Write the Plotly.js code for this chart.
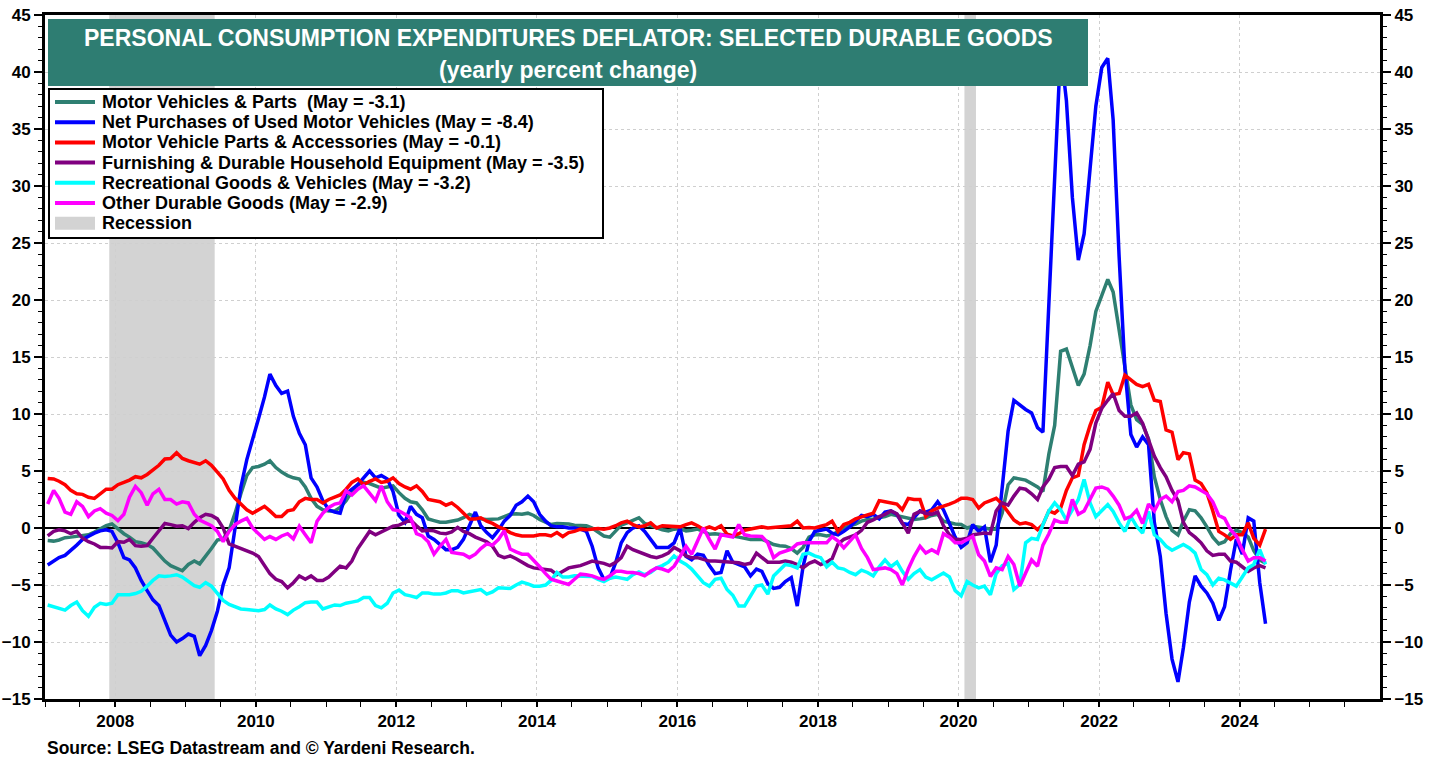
<!DOCTYPE html>
<html><head><meta charset="utf-8">
<script src="https://cdn.plot.ly/plotly-3.0.1.min.js"></script>
<style>html,body{margin:0;padding:0;background:#fff;}#chart{width:1438px;height:763px;}</style>
</head><body><div id="chart"></div>
<script>
// Monthly data, Jan 2007 .. May 2024 (yearly percent change)
const startYear = 2007;
const motorVehicles = [
-1.1,-1.15,-1.05,-0.85,-0.8,-0.75,-0.7,-0.6,-0.35,-0.1,0.2,0.35,
-0.1,-0.5,-0.8,-1.2,-1.3,-1.45,-1.75,-2.3,-2.9,-3.3,-3.55,-3.75,
-3.2,-2.9,-3.15,-2.5,-1.8,-1.05,-0.95,-0.2,1.3,3.0,4.6,5.3,
5.4,5.6,5.9,5.3,4.9,4.6,4.4,4.3,3.6,2.6,1.9,1.6,
1.5,1.5,1.8,2.4,3.2,3.8,4.0,3.9,3.7,3.5,3.6,3.7,
3.1,2.6,2.3,2.2,1.6,0.8,0.65,0.5,0.5,0.6,0.7,0.9,
1.2,1.0,0.8,0.75,0.75,0.8,1.0,1.2,1.25,1.2,1.3,1.1,
0.75,0.5,0.3,0.4,0.4,0.35,0.25,0.25,0.2,0.0,-0.4,-0.7,
-0.8,-0.2,0.25,0.45,0.65,0.9,0.4,0.2,0.0,-0.15,-0.25,-0.1,
-0.05,-0.25,-0.2,-0.1,-0.3,-0.55,-0.5,-0.55,-0.6,-0.7,-0.8,-0.9,
-1.0,-1.0,-1.0,-1.2,-1.45,-1.55,-1.6,-1.8,-2.2,-1.7,-0.8,-0.6,
-0.6,-0.7,-0.6,-0.3,0.0,0.2,0.35,0.6,0.75,0.8,0.9,1.0,
1.2,1.1,1.0,0.9,0.75,0.8,0.9,1.1,1.2,0.6,0.45,0.35,
0.3,0.0,0.15,0.1,0.0,-0.1,-0.1,1.3,3.8,4.4,4.3,4.2,
3.9,3.6,3.2,6.5,9.0,15.5,15.7,14.0,12.5,13.5,16.0,19.0,
20.5,21.8,20.7,17.2,14.3,10.8,9.5,9.1,7.8,4.5,2.5,1.0,
-0.2,-0.6,0.6,1.6,1.5,0.9,0.1,-0.8,-1.4,-1.2,-0.5,-0.2,
-0.4,-0.8,-2.0,-2.8,-3.1];
const usedVehicles = [
-3.25,-2.9,-2.6,-2.4,-2.0,-1.5,-1.0,-0.7,-0.45,-0.25,-0.15,-0.3,
-1.3,-2.6,-2.8,-3.5,-4.6,-5.5,-6.3,-6.8,-8.2,-9.4,-10.0,-9.7,
-9.3,-9.5,-11.2,-10.3,-9.0,-7.3,-5.0,-3.5,0.0,3.6,6.0,7.7,
9.6,11.5,13.5,12.5,11.8,12.0,9.8,8.3,7.3,4.4,3.6,2.4,
1.6,1.4,1.3,3.0,3.4,3.8,4.4,5.0,4.4,4.6,4.3,3.2,
1.1,0.5,1.9,1.2,0.9,-0.7,-1.0,-1.5,-1.9,-1.9,-1.7,-1.0,
0.3,1.4,0.2,-0.4,-0.85,-0.2,0.6,1.1,2.0,2.3,2.8,2.3,
1.2,0.6,0.2,0.1,0.1,0.0,0.0,-0.1,-0.3,-1.6,-3.5,-4.5,
-4.4,-3.0,-1.3,-0.4,0.0,0.2,-0.3,-1.0,-1.7,-1.7,-1.7,-1.3,
0.0,-2.5,-2.8,-2.3,-2.4,-3.3,-4.0,-3.9,-2.0,-3.0,-3.2,-3.4,
-4.2,-3.6,-3.8,-4.9,-5.3,-5.2,-4.7,-4.35,-6.85,-3.4,-1.2,-0.3,
-0.2,-0.1,-0.45,-0.6,-0.3,0.1,0.6,1.1,1.0,1.2,0.8,1.4,
1.5,1.2,0.4,0.3,0.9,1.5,1.4,1.6,2.3,1.6,0.4,-0.8,
-1.7,-1.3,0.3,-0.3,0.1,-3.0,-1.5,3.5,8.5,11.2,10.8,10.4,
10.1,8.8,8.4,20.0,30.0,42.0,37.5,29.0,23.5,25.8,31.5,37.0,
40.4,41.2,35.8,23.8,14.0,8.2,7.1,8.0,7.3,0.5,-2.5,-7.5,
-11.5,-13.5,-10.5,-6.5,-4.2,-5.1,-5.7,-6.6,-8.1,-6.9,-3.7,-1.0,
-2.3,0.9,0.6,-4.8,-8.4];
const partsAccessories = [
4.35,4.3,4.1,3.8,3.3,3.0,2.95,2.7,2.6,3.0,3.4,3.4,
3.8,4.0,4.2,4.5,4.4,4.7,5.1,5.5,6.05,6.1,6.6,6.1,
5.9,5.7,5.6,5.9,5.5,4.9,4.3,3.3,2.6,2.1,1.6,1.3,
1.6,1.9,1.5,1.0,1.0,1.5,1.6,2.3,2.6,2.5,2.5,2.2,
2.5,2.7,2.9,3.4,4.0,4.3,3.8,4.1,4.3,4.0,4.1,4.4,
3.9,3.6,3.4,3.7,3.2,2.5,2.4,2.3,2.0,2.2,1.8,1.3,
0.8,0.8,0.9,0.6,0.4,0.1,-0.1,-0.4,-0.6,-0.7,-0.7,-0.7,
-0.6,-0.6,-0.7,-0.4,-0.75,-0.4,-0.3,-0.1,-0.15,-0.1,-0.05,-0.1,
0.0,0.2,0.45,0.6,0.3,0.1,0.2,0.45,0.0,0.2,0.15,0.1,
0.1,0.3,0.45,0.2,-0.1,0.1,-0.1,0.2,-0.55,-0.7,-0.5,-0.2,
-0.1,-0.05,0.1,0.0,0.05,0.1,0.15,0.2,0.6,0.0,0.05,0.0,
0.15,0.3,0.6,-0.3,0.3,0.5,0.8,1.0,1.15,1.3,2.4,2.3,
2.2,2.1,1.6,2.6,2.5,2.5,1.0,1.5,1.75,1.9,2.1,2.3,
2.6,2.6,2.5,1.75,2.2,2.4,2.6,2.1,1.4,0.7,0.35,0.45,
0.3,-0.15,0.3,1.5,1.3,1.75,3.3,4.4,4.6,7.3,9.0,10.3,
10.6,12.8,11.7,11.8,13.4,13.0,12.6,12.4,12.6,11.2,11.1,8.6,
8.4,6.0,6.6,6.5,4.2,3.9,3.1,1.5,-0.3,-0.6,-1.0,-0.6,
-0.6,0.45,-0.9,-1.5,-0.1];
const furnishings = [
-0.7,-0.3,-0.15,-0.25,-0.5,-0.3,-0.9,-1.2,-1.4,-1.7,-1.7,-1.75,
-1.2,-1.25,-1.0,-1.55,-1.6,-1.55,-0.9,-0.2,0.4,0.3,0.15,0.2,
-0.05,0.5,0.9,1.2,1.1,0.8,0.0,-1.4,-1.6,-1.8,-2.0,-2.2,
-2.5,-3.3,-4.0,-4.5,-4.7,-5.25,-4.8,-4.2,-4.5,-4.2,-4.6,-4.6,
-4.3,-3.8,-3.35,-3.5,-2.9,-1.8,-1.1,-0.3,-0.6,-0.35,-0.15,0.15,
0.25,0.45,0.7,0.2,-0.25,-0.2,-0.25,-0.45,-0.5,-0.35,0.05,-0.3,
-0.5,-0.8,-1.0,-1.2,-1.6,-2.4,-2.6,-2.45,-2.7,-3.0,-3.3,-3.5,
-3.55,-3.6,-3.7,-4.1,-3.8,-3.5,-3.4,-3.3,-3.1,-2.9,-3.0,-3.1,
-3.3,-3.0,-2.6,-1.6,-1.9,-2.1,-2.3,-2.5,-2.6,-2.45,-2.2,-1.7,
-2.0,-2.45,-2.6,-2.6,-2.75,-2.9,-2.9,-2.95,-3.0,-3.0,-3.05,-3.2,
-3.1,-2.2,-2.6,-3.0,-3.0,-3.0,-2.9,-3.0,-3.2,-3.5,-3.1,-2.9,
-3.2,-3.0,-2.7,-1.4,-1.0,-0.8,-0.6,-0.2,0.5,0.7,1.0,1.2,
1.5,1.25,0.5,-0.45,1.2,1.45,1.3,1.2,1.4,0.2,-0.6,-1.0,
-1.0,-0.9,-0.6,-0.55,-0.45,-0.5,1.5,2.2,2.0,2.8,3.5,3.4,
3.0,2.5,3.6,4.3,5.3,5.4,5.4,4.6,5.6,5.8,6.9,9.2,
10.5,11.2,11.8,10.3,9.8,9.8,10.1,9.2,7.7,6.3,5.3,4.5,
3.3,2.4,0.5,-0.4,-0.8,-1.3,-2.0,-2.4,-2.3,-2.3,-2.9,-3.0,
-3.4,-3.8,-3.5,-3.3,-3.5];
const recreational = [
-6.75,-6.9,-7.0,-7.2,-6.8,-6.5,-7.25,-7.75,-6.95,-6.6,-6.7,-6.6,
-5.85,-5.85,-5.85,-5.75,-5.55,-5.1,-4.6,-4.2,-4.25,-4.2,-4.1,-4.3,
-4.7,-5.05,-5.2,-4.8,-5.1,-5.8,-6.35,-6.7,-6.9,-7.1,-7.15,-7.2,
-7.25,-7.15,-6.75,-7.1,-7.3,-7.6,-7.2,-6.9,-6.55,-6.5,-6.5,-7.1,
-6.9,-6.75,-6.8,-6.6,-6.5,-6.4,-6.1,-6.1,-6.8,-7.0,-6.6,-5.7,
-5.45,-5.85,-5.95,-6.1,-5.7,-5.7,-5.8,-5.8,-5.7,-5.5,-5.5,-5.7,
-5.6,-5.5,-5.4,-5.8,-5.6,-5.25,-5.3,-5.3,-5.0,-4.75,-4.9,-5.1,
-5.1,-5.0,-4.6,-3.9,-4.3,-4.3,-4.2,-4.2,-4.2,-4.25,-4.5,-4.7,
-4.4,-4.3,-4.4,-4.5,-4.1,-3.85,-4.1,-3.9,-3.5,-3.3,-3.0,-2.45,
-2.9,-3.2,-3.6,-4.2,-4.8,-5.1,-4.5,-4.4,-5.4,-5.9,-6.85,-6.85,
-6.0,-5.1,-5.0,-5.8,-4.2,-3.7,-3.2,-3.3,-3.5,-2.3,-2.2,-2.45,
-2.6,-3.4,-3.0,-3.5,-3.6,-3.9,-4.1,-3.7,-3.9,-4.2,-3.4,-2.8,
-3.4,-3.0,-3.8,-4.5,-4.0,-3.65,-4.3,-4.55,-4.2,-3.95,-4.3,-5.5,
-5.95,-4.7,-5.0,-5.25,-5.1,-5.85,-4.0,-3.3,-3.1,-5.4,-4.95,-1.3,
-0.9,-1.0,0.3,1.5,2.2,1.6,0.7,1.6,2.5,4.25,2.2,1.0,
1.5,2.05,1.45,0.45,-0.3,1.0,0.15,-0.45,1.45,-0.6,-1.0,-1.6,
-1.95,-1.7,-1.45,-1.75,-2.2,-3.65,-4.1,-5.0,-4.4,-4.55,-4.8,-5.1,
-4.3,-3.5,-3.2,-1.9,-3.2];
const otherDurables = [
2.1,3.3,2.6,1.4,1.2,2.3,1.9,1.0,1.5,1.7,1.3,1.1,
0.65,1.2,2.7,3.65,3.1,2.0,3.0,3.4,2.5,2.5,2.1,2.3,
2.2,1.2,0.7,0.45,0.2,-0.3,-1.2,-0.3,0.3,0.6,0.85,0.0,
-0.5,-1.0,-0.75,-1.0,-0.7,-0.5,-0.95,0.15,-0.6,-1.3,0.6,1.3,
1.8,2.1,2.2,3.25,2.9,3.4,3.7,3.1,2.4,3.7,2.3,1.6,
1.5,1.2,0.9,-0.5,-0.7,-1.2,-2.3,-1.6,-1.0,-2.15,-2.2,-2.3,
-2.6,-2.3,-1.8,-1.4,-1.5,-1.0,-0.25,-1.85,-2.1,-2.3,-2.3,-2.8,
-3.4,-4.0,-4.5,-4.65,-4.8,-4.95,-4.5,-4.05,-4.1,-4.2,-4.4,-4.5,
-4.2,-3.8,-3.8,-3.9,-3.9,-4.0,-4.2,-3.8,-3.5,-3.6,-3.8,-3.35,
-2.5,-1.6,-2.3,-1.1,0.0,-1.0,-1.85,-0.6,-0.7,-0.8,0.3,-0.6,
-0.7,-0.75,-0.75,-1.3,-2.6,-2.2,-2.0,-1.85,-1.4,-1.3,-1.3,-1.3,
-1.3,-1.3,-0.75,-1.15,-1.75,-1.2,-0.6,-1.8,-2.6,-3.65,-3.6,-3.5,
-3.65,-4.0,-5.0,-3.6,-2.5,-1.6,-2.2,-1.9,-2.2,-0.5,-0.8,-1.3,
-1.3,-1.0,-0.75,-2.35,-2.9,-4.25,-3.5,-3.65,-2.5,-3.2,-5.1,-3.95,
-2.8,-3.35,-1.5,-0.5,0.7,0.5,0.5,2.5,1.2,1.5,2.5,3.5,
3.6,3.4,2.8,2.0,0.8,1.0,1.55,0.4,2.1,1.5,2.5,2.8,
2.3,3.2,3.3,3.7,3.6,3.3,3.0,2.3,1.1,0.85,-0.15,-0.7,
-1.9,-2.9,-2.6,-2.6,-2.9];
const seriesNames = [
  'Motor Vehicles & Parts \u00a0(May = -3.1)',
  'Net Purchases of Used Motor Vehicles (May = -8.4)',
  'Motor Vehicle Parts & Accessories (May = -0.1)',
  'Furnishing & Durable Household Equipment (May = -3.5)',
  'Recreational Goods & Vehicles (May = -3.2)',
  'Other Durable Goods (May = -2.9)'];
const recessionLabel = 'Recession';
const recessionStart = ['2007-12-01', '2020-02-01'];
const recessionEnd = ['2009-06-01', '2020-04-01'];
const titleLine1 = 'PERSONAL CONSUMPTION EXPENDITURES DEFLATOR: SELECTED DURABLE GOODS';
const titleLine2 = '(yearly percent change)';
const sourceText = 'Source: LSEG Datastream and \u00a9 Yardeni Research.';

// monthly dates (mid-month)
const dates = motorVehicles.map((_, i) => {
  const y = startYear + Math.floor(i / 12), m = (i % 12) + 1;
  return y + '-' + String(m).padStart(2, '0') + '-15';
});

const FONT = 'Liberation Sans, Arial, Helvetica, sans-serif';
const colors = ['#2E7F72', '#0000FF', '#FF0000', '#800080', '#00FFFF', '#FF00FF'];
const recessionColor = '#D3D3D3';
const seriesData = [motorVehicles, usedVehicles, partsAccessories, furnishings, recreational, otherDurables];

const traces = seriesData.map((vals, i) => ({
  type: 'scatter', mode: 'lines', x: dates, y: vals, name: seriesNames[i],
  line: { color: colors[i], width: 3.5 }, hoverinfo: 'skip', showlegend: false
}));
traces.push({ type: 'scatter', mode: 'lines', x: [null], y: [null], yaxis: 'y2', showlegend: false, hoverinfo: 'skip' });

// plot-area geometry helpers (pixels -> paper)
const PL = 45, PW = 1335, PB = 699, PH = 684;
const px = v => (v - PL) / PW;
const py = v => (PB - v) / PH;

const shapes = recessionStart.map((s, i) => ({
  type: 'rect', xref: 'x', yref: 'paper', x0: s, x1: recessionEnd[i], y0: 0, y1: 1,
  fillcolor: recessionColor, line: { width: 0 }, layer: 'below'
}));
// title box
shapes.push({ type: 'rect', xref: 'paper', yref: 'paper', x0: px(48), x1: px(1088), y0: py(86), y1: py(19),
  fillcolor: '#2E7D72', line: { width: 0 }, layer: 'above' });
// legend box
shapes.push({ type: 'rect', xref: 'paper', yref: 'paper', x0: px(49), x1: px(603), y0: py(238), y1: py(89),
  fillcolor: 'white', line: { color: 'black', width: 2 }, layer: 'above' });

const annotations = [
  { xref: 'paper', yref: 'paper', x: px(568), y: py(38), xanchor: 'center', yanchor: 'middle', showarrow: false,
    text: titleLine1, font: { family: FONT, size: 23, color: 'white', weight: 'bold' } },
  { xref: 'paper', yref: 'paper', x: px(568), y: py(70), xanchor: 'center', yanchor: 'middle', showarrow: false,
    text: titleLine2, font: { family: FONT, size: 23, color: 'white', weight: 'bold' } },
  { xref: 'paper', yref: 'paper', x: px(45), y: py(748), xanchor: 'left', yanchor: 'middle', showarrow: false,
    text: sourceText, font: { family: FONT, size: 17.5, color: 'black', weight: 'bold' } }
];

// legend entries
const legendRowTop = 102, legendRowStep = 20.2;
const legendLabels = seriesNames.concat([recessionLabel]);
legendLabels.forEach((lab, i) => {
  const yc = legendRowTop + i * legendRowStep;
  if (i < seriesNames.length) {
    shapes.push({ type: 'line', xref: 'paper', yref: 'paper', x0: px(55), x1: px(95), y0: py(yc), y1: py(yc),
      line: { color: colors[i], width: 4 }, layer: 'above' });
  } else {
    shapes.push({ type: 'rect', xref: 'paper', yref: 'paper', x0: px(55), x1: px(95), y0: py(yc + 6.5), y1: py(yc - 6.5),
      fillcolor: recessionColor, line: { width: 0 }, layer: 'above' });
  }
  annotations.push({ xref: 'paper', yref: 'paper', x: px(100), y: py(yc), xanchor: 'left', yanchor: 'middle',
    showarrow: false, text: lab, font: { family: FONT, size: 18, color: 'black', weight: 'bold' } });
});

const gridColor = '#CFCFCF';
const yCommon = {
  range: [-15, 45], tick0: 0, dtick: 5, ticks: 'outside', ticklen: 8, tickwidth: 2, tickcolor: 'black',
  showline: true, linecolor: 'black', linewidth: 3,
  tickfont: { family: FONT, size: 17, color: 'black', weight: 'bold' },
  minor: { dtick: 1, ticks: 'outside', ticklen: 4, tickwidth: 1, tickcolor: 'black', showgrid: false }
};

const layout = {
  width: 1438, height: 763,
  margin: { l: 45, r: 58, t: 15, b: 64 },
  paper_bgcolor: 'white', plot_bgcolor: 'white',
  font: { family: FONT, size: 16, color: 'black', weight: 'bold' },
  showlegend: false,
  xaxis: {
    type: 'date', range: ['2007-01-01', '2025-12-31'], tick0: '2008-01-01', dtick: 'M24', tickformat: '%Y',
    ticks: 'outside', ticklen: 5, tickwidth: 2, tickcolor: 'black',
    showline: true, linecolor: 'black', linewidth: 3, mirror: true,
    showgrid: true, gridcolor: gridColor, griddash: 'dot', gridwidth: 1, zeroline: false,
    tickfont: { family: FONT, size: 17, color: 'black', weight: 'bold' },
    minor: { tick0: '2008-01-01', dtick: 'M6', ticks: 'outside', ticklen: 5, tickwidth: 1, tickcolor: 'black', showgrid: false }
  },
  yaxis: Object.assign({}, yCommon, {
    side: 'left', mirror: true, showgrid: true, gridcolor: gridColor, griddash: 'dot', gridwidth: 1,
    zeroline: true, zerolinecolor: 'black', zerolinewidth: 2
  }),
  yaxis2: Object.assign({}, yCommon, { overlaying: 'y', side: 'right', showgrid: false, zeroline: false }),
  shapes: shapes,
  annotations: annotations
};

Plotly.newPlot('chart', traces, layout, { staticPlot: true, displayModeBar: false });
</script></body></html>
